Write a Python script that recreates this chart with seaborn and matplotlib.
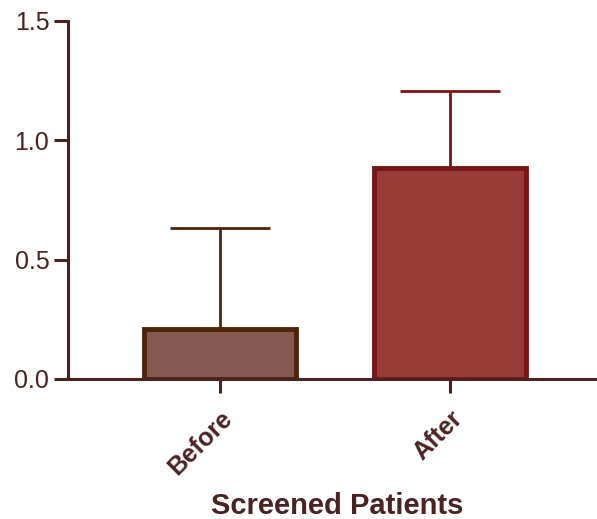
import numpy as np
import matplotlib.pyplot as plt
import pandas as pd
import seaborn as sns

# values
groups = ["Before", "After"]
means = [0.21, 0.885]
upper_err = [0.42, 0.32]
fill_colors = ["#855850", "#983c38"]
edge_colors = ["#4e2508", "#7a1515"]
axis_color = "#4a2222"

df = pd.DataFrame({"group": groups, "value": means})

sns.set_style("ticks")
plt.rcParams['font.family'] = ['Liberation Sans', 'DejaVu Sans']

fig = plt.figure(figsize=(5.97, 5.19), dpi=100)
ax = fig.add_axes([0.114, 0.27, 0.95, 0.69])

sns.barplot(data=df, x="group", y="value", hue="group", palette=fill_colors,
            saturation=1, width=0.66, errorbar=None, legend=False, ax=ax, zorder=2)

for patch, ec in zip(ax.patches, edge_colors):
    patch.set_edgecolor(ec)
    patch.set_linewidth(3.5)

# upper-only error bars, like the GraphPad original
for i, (m, e, ec) in enumerate(zip(means, upper_err, edge_colors)):
    ax.errorbar(i, m, yerr=[[0], [e]], fmt="none", ecolor=ec, elinewidth=2,
                capsize=36, capthick=2, zorder=1)

ax.set_ylim(0, 1.5)
ax.set_xlim(-0.661, 1.804)
ax.set_yticks([0.0, 0.5, 1.0, 1.5])
ax.set_yticklabels(["0.0", "0.5", "1.0", "1.5"])

sns.despine(ax=ax, top=True, right=True)
for side in ["left", "bottom"]:
    ax.spines[side].set_color(axis_color)
    ax.spines[side].set_linewidth(2.2)

ax.tick_params(axis="both", colors=axis_color, width=2.2, length=10,
               labelsize=18, labelcolor=axis_color)
ax.tick_params(axis="x", pad=10)
for lbl in ax.get_xticklabels():
    lbl.set_rotation(45)
    lbl.set_ha("right")
    lbl.set_rotation_mode("anchor")
    lbl.set_fontweight("bold")
    lbl.set_fontsize(18)

ax.set_ylabel("")
ax.set_xlabel("Screened Patients", fontsize=21, fontweight="bold",
              color=axis_color)
ax.xaxis.set_label_coords(0.474, -0.315)

fig.savefig("out.png", dpi=100)
